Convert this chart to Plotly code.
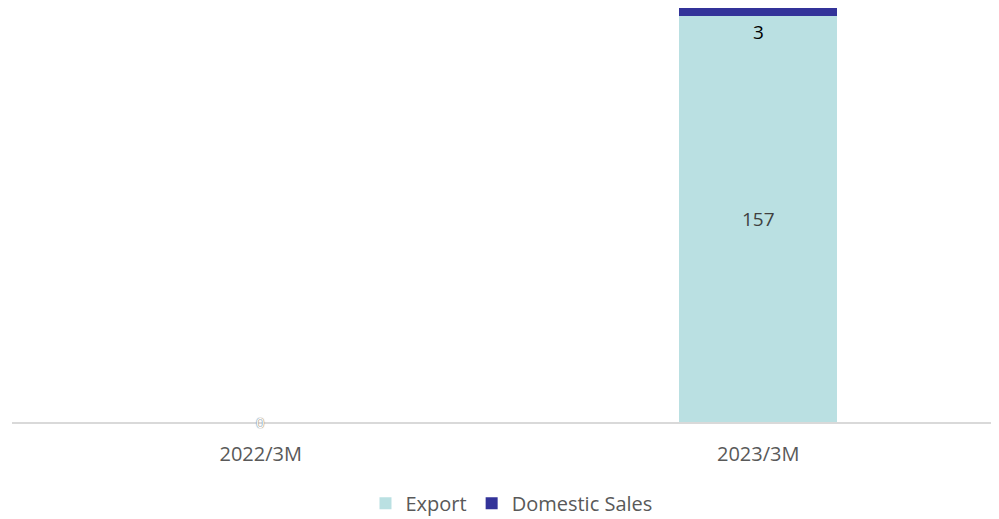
import plotly.graph_objects as go

categories = ['2022/3M', '2023/3M']
export = [0, 157]
domestic = [0, 3]

FONT = 'Open Sans'

fig = go.Figure()
fig.add_trace(go.Bar(name='Export', x=categories, y=export,
                     marker=dict(color='#BAE0E2', line=dict(width=0)),
                     text=['', str(export[1])], textposition='inside',
                     insidetextanchor='middle',
                     textfont=dict(family=FONT, size=19, color='#404040')))
fig.add_trace(go.Bar(name='Domestic Sales', x=categories, y=domestic,
                     marker=dict(color='#333399', line=dict(width=0)),
                     textposition='none'))

# value label for the thin domestic segment, drawn just under it
fig.add_annotation(x=categories[1], y=export[1], text=str(domestic[1]),
                   showarrow=False, yanchor='top', yshift=-1,
                   font=dict(family=FONT, size=19, color='#000000'))
# zero label for the empty year
fig.add_annotation(x=categories[0], y=0, text=str(export[0]),
                   showarrow=False, yanchor='middle',
                   font=dict(family=FONT, size=15, color='#FFFFFF',
                             shadow='0px 0px 1px #777777, 0px 0px 1px #777777'))

fig.update_layout(
    barmode='stack',
    bargap=0.682,
    width=999, height=519,
    margin=dict(l=4, r=0, t=0, b=105, autoexpand=False),
    plot_bgcolor='white', paper_bgcolor='white',
    font=dict(family=FONT, color='#595959'),
    xaxis=dict(showline=True, linecolor='#D9D9D9', linewidth=1.5,
               tickfont=dict(size=20, color='#595959'), ticks='',
               ticklabelstandoff=13, automargin=False),
    yaxis=dict(visible=False, range=[0, 160], automargin=False),
    legend=dict(orientation='h', x=0.502, xanchor='center', y=-0.149, yanchor='top',
                font=dict(size=20, color='#595959'), traceorder='normal',
                itemwidth=30),
    showlegend=True,
)

fig.write_html('out.html')
